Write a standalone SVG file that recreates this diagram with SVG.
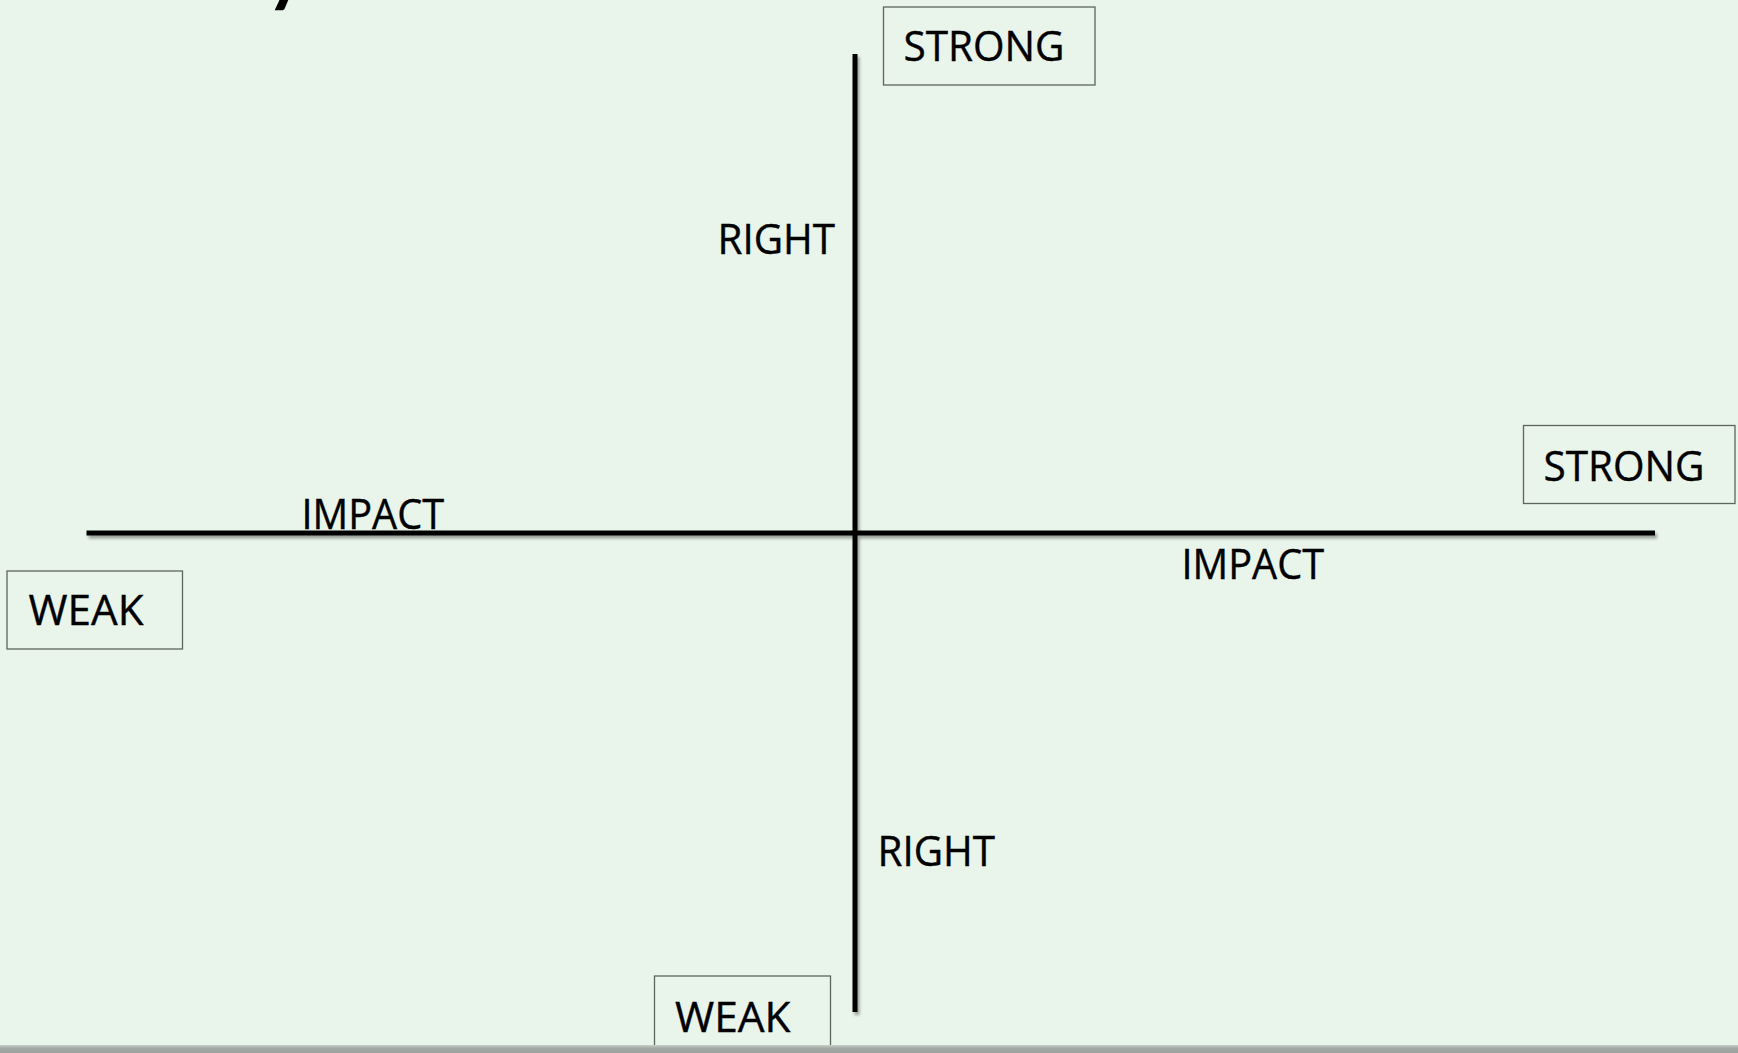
<svg xmlns="http://www.w3.org/2000/svg" width="1738" height="1053" viewBox="0 0 1738 1053">
  <style>
    .lbl { font-family: "Open Sans", "Noto Sans", "Liberation Sans", sans-serif; font-size: 42px; fill: #000; stroke: #000; stroke-width: 0.4; }
    .box { fill: none; stroke: #5c6660; stroke-width: 1.3; }
    .axis { stroke: #000; stroke-width: 5; fill: none; }
  </style>
  <defs>
    <filter id="shadow" x="-5%" y="-5%" width="110%" height="110%">
      <feGaussianBlur in="SourceAlpha" stdDeviation="1.5"/>
      <feOffset dx="2" dy="3" result="b"/>
      <feComponentTransfer><feFuncA type="linear" slope="0.35"/></feComponentTransfer>
      <feMerge><feMergeNode/><feMergeNode in="SourceGraphic"/></feMerge>
    </filter>
    <linearGradient id="bar" x1="0" y1="0" x2="0" y2="1">
      <stop offset="0" stop-color="#c9d0ca"/>
      <stop offset="0.4" stop-color="#a3aaa5"/>
      <stop offset="1" stop-color="#9aa19c"/>
    </linearGradient>
  </defs>
  <rect width="1738" height="1053" fill="#e9f4ea"/>
  <text x="266" y="-3" font-family="Lato, 'Open Sans', sans-serif" font-weight="bold" font-size="76" fill="#000">y</text>

  <g id="connectors" filter="url(#shadow)">
    <line class="axis" x1="86.5" y1="533" x2="1655" y2="533"/>
    <line class="axis" x1="855" y1="54" x2="855" y2="1012"/>
  </g>

  <g id="node-strong-top">
    <rect class="box" x="883.5" y="7" width="211.5" height="78"/>
    <text class="lbl" x="903.5" y="61" textLength="161" lengthAdjust="spacingAndGlyphs">STRONG</text>
  </g>
  <g id="node-strong-right">
    <rect class="box" x="1523.5" y="425.5" width="211.5" height="78"/>
    <text class="lbl" x="1543.5" y="481" textLength="161" lengthAdjust="spacingAndGlyphs">STRONG</text>
  </g>
  <g id="node-weak-left">
    <rect class="box" x="7" y="571" width="175.5" height="78"/>
    <text class="lbl" x="28.5" y="625" textLength="115" lengthAdjust="spacingAndGlyphs">WEAK</text>
  </g>
  <g id="node-weak-bottom">
    <rect class="box" x="654.5" y="976" width="176" height="90"/>
    <text class="lbl" x="675" y="1031.5" textLength="115.5" lengthAdjust="spacingAndGlyphs">WEAK</text>
  </g>
  <g id="label-right-top">
    <text class="lbl" x="717.5" y="254" textLength="117.5" lengthAdjust="spacingAndGlyphs">RIGHT</text>
  </g>
  <g id="label-right-bottom">
    <text class="lbl" x="877.5" y="866" textLength="117.5" lengthAdjust="spacingAndGlyphs">RIGHT</text>
  </g>
  <g id="label-impact-left">
    <text class="lbl" x="301.5" y="528.5" textLength="142.5" lengthAdjust="spacingAndGlyphs">IMPACT</text>
  </g>
  <g id="label-impact-right">
    <text class="lbl" x="1181.5" y="579" textLength="142.5" lengthAdjust="spacingAndGlyphs">IMPACT</text>
  </g>

  <rect x="0" y="1045" width="1738" height="8" fill="url(#bar)"/>
</svg>
